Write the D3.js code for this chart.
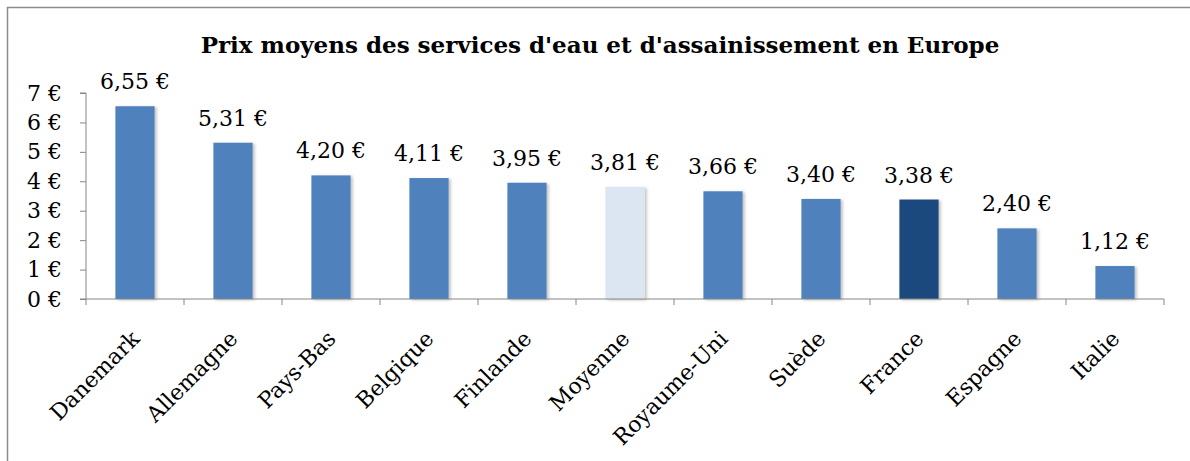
<!DOCTYPE html>
<html>
<head>
<meta charset="utf-8">
<script src="https://cdn.jsdelivr.net/npm/d3@7"></script>
<style>
  body { margin: 0; background: #fff; }
  svg { display: block; font-family: "DejaVu Serif", serif; }
  .axis path, .axis line { stroke: #868686; }
  .axis text { font-family: "DejaVu Serif", serif; font-size: 22px; fill: #000; }
</style>
</head>
<body>
<div class="diagram"></div>
<script>
const countries = ["Danemark", "Allemagne", "Pays-Bas", "Belgique", "Finlande", "Moyenne",
                   "Royaume-Uni", "Suède", "France", "Espagne", "Italie"];
const prices = [6.55, 5.31, 4.20, 4.11, 3.95, 3.81, 3.66, 3.40, 3.38, 2.40, 1.12];
const yTicks = [0, 1, 2, 3, 4, 5, 6, 7];
const title = "Prix moyens des services d'eau et d'assainissement en Europe";

const w = 1190,
      h = 461,
      plotLeft = 86,
      plotRight = 1164,
      plotTop = 93,
      plotBottom = 299;

const svg = d3.select(".diagram")
  .append("svg")
  .attr("width", w)
  .attr("height", h);

// soft shadow like the office chart
const defs = svg.append("defs");
const f = defs.append("filter").attr("id", "shadow")
  .attr("x", "-20%").attr("y", "-5%").attr("width", "150%").attr("height", "115%");
f.append("feDropShadow")
  .attr("dx", 2).attr("dy", 1).attr("stdDeviation", 1.5)
  .attr("flood-color", "#000").attr("flood-opacity", 0.25);

// chart border (only top and left visible)
svg.append("path")
  .attr("d", "M7.5," + h + "V7.5H" + w)
  .attr("fill", "none")
  .attr("stroke", "#8c8c8c")
  .attr("stroke-width", 1.5);

svg.append("text")
  .attr("x", 600)
  .attr("y", 53)
  .attr("text-anchor", "middle")
  .style("font-size", "23px")
  .style("font-weight", "bold")
  .text(title);

const xScale = d3.scaleBand()
  .domain(countries)
  .range([plotLeft, plotRight])
  .paddingInner(0.6)
  .paddingOuter(0.3);

const yScale = d3.scaleLinear()
  .domain([0, 7])
  .range([plotBottom, plotTop]);

const color = (d) => d === "Moyenne" ? "#dce6f2" : d === "France" ? "#1f497d" : "#4f81bd";

svg.selectAll("rect.bar")
  .data(countries)
  .enter()
  .append("rect")
  .attr("class", "bar")
  .attr("x", (d) => xScale(d))
  .attr("width", xScale.bandwidth())
  .attr("y", (d, i) => yScale(prices[i]))
  .attr("height", (d, i) => plotBottom - yScale(prices[i]))
  .attr("fill", color)
  .attr("filter", "url(#shadow)");

svg.selectAll("text.val")
  .data(countries)
  .enter()
  .append("text")
  .attr("class", "val")
  .attr("x", (d) => xScale(d) + xScale.bandwidth() / 2)
  .attr("y", (d, i) => yScale(prices[i]) - 17)
  .attr("text-anchor", "middle")
  .style("font-size", "22px")
  .text((d, i) => d3.format(".2f")(prices[i]).replace(".", ",") + " €");

const yAxis = d3.axisLeft(yScale)
  .tickValues(yTicks)
  .tickSize(6)
  .tickPadding(18)
  .tickFormat((d) => d + " €");

svg.append("g")
  .attr("class", "axis")
  .attr("transform", "translate(" + plotLeft + ",0)")
  .call(yAxis)
  .call((g) => g.select(".domain").attr("d", "M-6," + plotTop + "H0V" + plotBottom + "H-6"));

// category axis: ticks between categories
const xEdges = d3.range(countries.length + 1).map((i) => plotLeft + i * (plotRight - plotLeft) / countries.length);
const xg = svg.append("g").attr("class", "axis");
xg.append("path")
  .attr("d", "M" + plotLeft + "," + plotBottom + "H" + plotRight)
  .attr("stroke", "#868686");
xg.selectAll("line")
  .data(xEdges)
  .enter()
  .append("line")
  .attr("x1", (d) => d).attr("x2", (d) => d)
  .attr("y1", plotBottom).attr("y2", plotBottom + 6)
  .attr("stroke", "#868686");

xg.selectAll("text")
  .data(countries)
  .enter()
  .append("text")
  .attr("transform", (d) => "translate(" + (xScale(d) + xScale.bandwidth() / 2 + 6) + "," + 340 + ") rotate(-45)")
  .attr("text-anchor", "end")
  .text((d) => d);
</script>
</body>
</html>
